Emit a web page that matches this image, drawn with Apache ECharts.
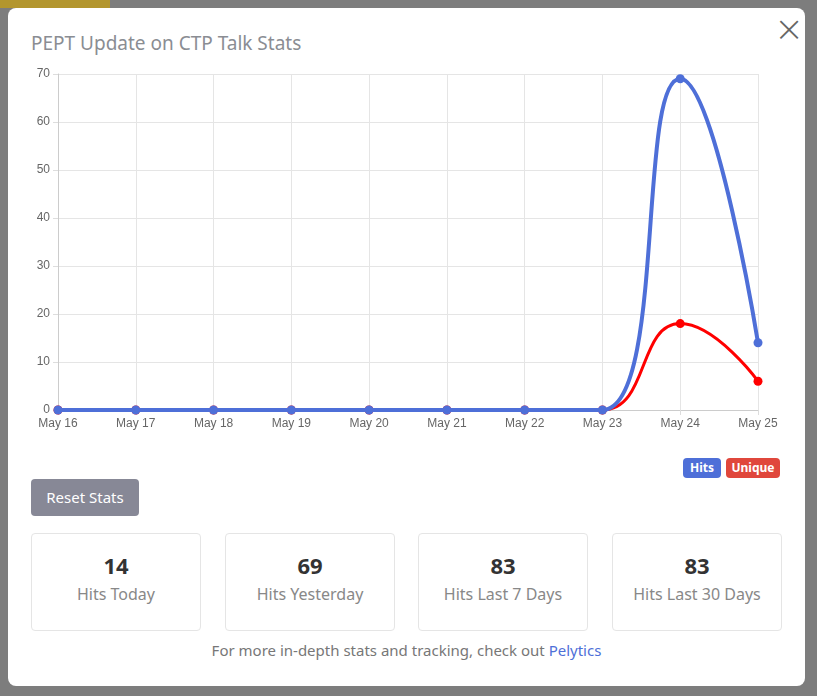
<!DOCTYPE html>
<html><head><meta charset="utf-8">
<script src="https://cdn.jsdelivr.net/npm/echarts@6/dist/echarts.min.js"></script>
<style>
body{margin:0;width:817px;height:696px;background:#7d7d7d;position:relative;overflow:hidden;font-family:"Noto Sans",sans-serif;}
#modal{position:absolute;left:8px;top:8px;width:797px;height:678px;background:#fff;border-radius:8px;}
#title{position:absolute;left:23px;top:22px;font-size:19px;color:#8a8d93;}
#close{position:absolute;left:766px;top:0px;font-size:36px;color:#666;font-weight:200;font-family:"DejaVu Sans";}
#chart{position:absolute;left:12px;top:52px;width:780px;height:380px;}
.badge{position:absolute;top:450px;height:20px;line-height:20px;color:#fff;font-size:12px;font-weight:bold;border-radius:4px;text-align:center;}
#btn{position:absolute;left:23px;top:471px;width:108px;height:37px;background:#878896;color:#fff;border-radius:4px;font-size:15px;line-height:37px;text-align:center;}
.box{position:absolute;top:525px;width:168px;height:96px;border:1px solid #e5e5e5;border-radius:4px;text-align:center;}
.box .n{font-size:22px;font-weight:bold;color:#333;margin-top:16px;}
.box .l{font-size:16px;color:#888;margin-top:3px;}
#foot{position:absolute;left:0;width:797px;top:632px;text-align:center;font-size:15px;color:#777;}
#foot span{color:#4e6fd8;}
</style></head><body>
<div style="position:absolute;left:0;top:0;width:110px;height:8px;background:#b3962e"></div>
<div id="modal">
<div id="title">PEPT Update on CTP Talk Stats</div>
<div id="close">×</div>
<div id="chart"></div>
<div class="badge" style="left:675px;width:38px;background:#4e6fd8">Hits</div>
<div class="badge" style="left:718px;width:54px;background:#e0473c">Unique</div>
<div id="btn">Reset Stats</div>
<div class="box" style="left:23px"><div class="n">14</div><div class="l">Hits Today</div></div>
<div class="box" style="left:217px"><div class="n">69</div><div class="l">Hits Yesterday</div></div>
<div class="box" style="left:410px"><div class="n">83</div><div class="l">Hits Last 7 Days</div></div>
<div class="box" style="left:604px"><div class="n">83</div><div class="l">Hits Last 30 Days</div></div>
<div id="foot">For more in-depth stats and tracking, check out <span>Pelytics</span></div>
</div>
<script>
const categories=["May 16","May 17","May 18","May 19","May 20","May 21","May 22","May 23","May 24","May 25"];
const hits=[0,0,0,0,0,0,0,0,69,14];
const unique=[0,0,0,0,0,0,0,0,18,6];
const c=echarts.init(document.getElementById('chart'));
c.setOption({
 animation:false,
 grid:{left:38,right:42,top:14,bottom:30},
 xAxis:{type:'category',boundaryGap:false,data:categories,
  axisLine:{lineStyle:{color:'#ccc'}},axisTick:{show:true,length:5,lineStyle:{color:'#ddd'}},
  axisLabel:{color:'#666',fontSize:12,fontFamily:'Liberation Sans'},
  splitLine:{show:true,lineStyle:{color:'#e5e5e5'}}},
 yAxis:{type:'value',min:0,max:70,interval:10,
  axisLine:{show:true,lineStyle:{color:'#ccc'}},axisTick:{show:true,length:5,lineStyle:{color:'#ddd'}},
  axisLabel:{color:'#666',fontSize:12,fontFamily:'Liberation Sans'},
  splitLine:{lineStyle:{color:'#e5e5e5'}}},
 series:[
  {name:'Unique',type:'line',data:unique,smooth:0.5,symbol:'circle',symbolSize:9,
   lineStyle:{color:'#f00',width:3},itemStyle:{color:'#f00'},z:2},
  {name:'Hits',type:'line',data:hits,smooth:0.5,symbol:'circle',symbolSize:9,
   lineStyle:{color:'#4e6fd8',width:4},itemStyle:{color:'#4e6fd8'},z:3}
 ]
});
</script>
</body></html>
